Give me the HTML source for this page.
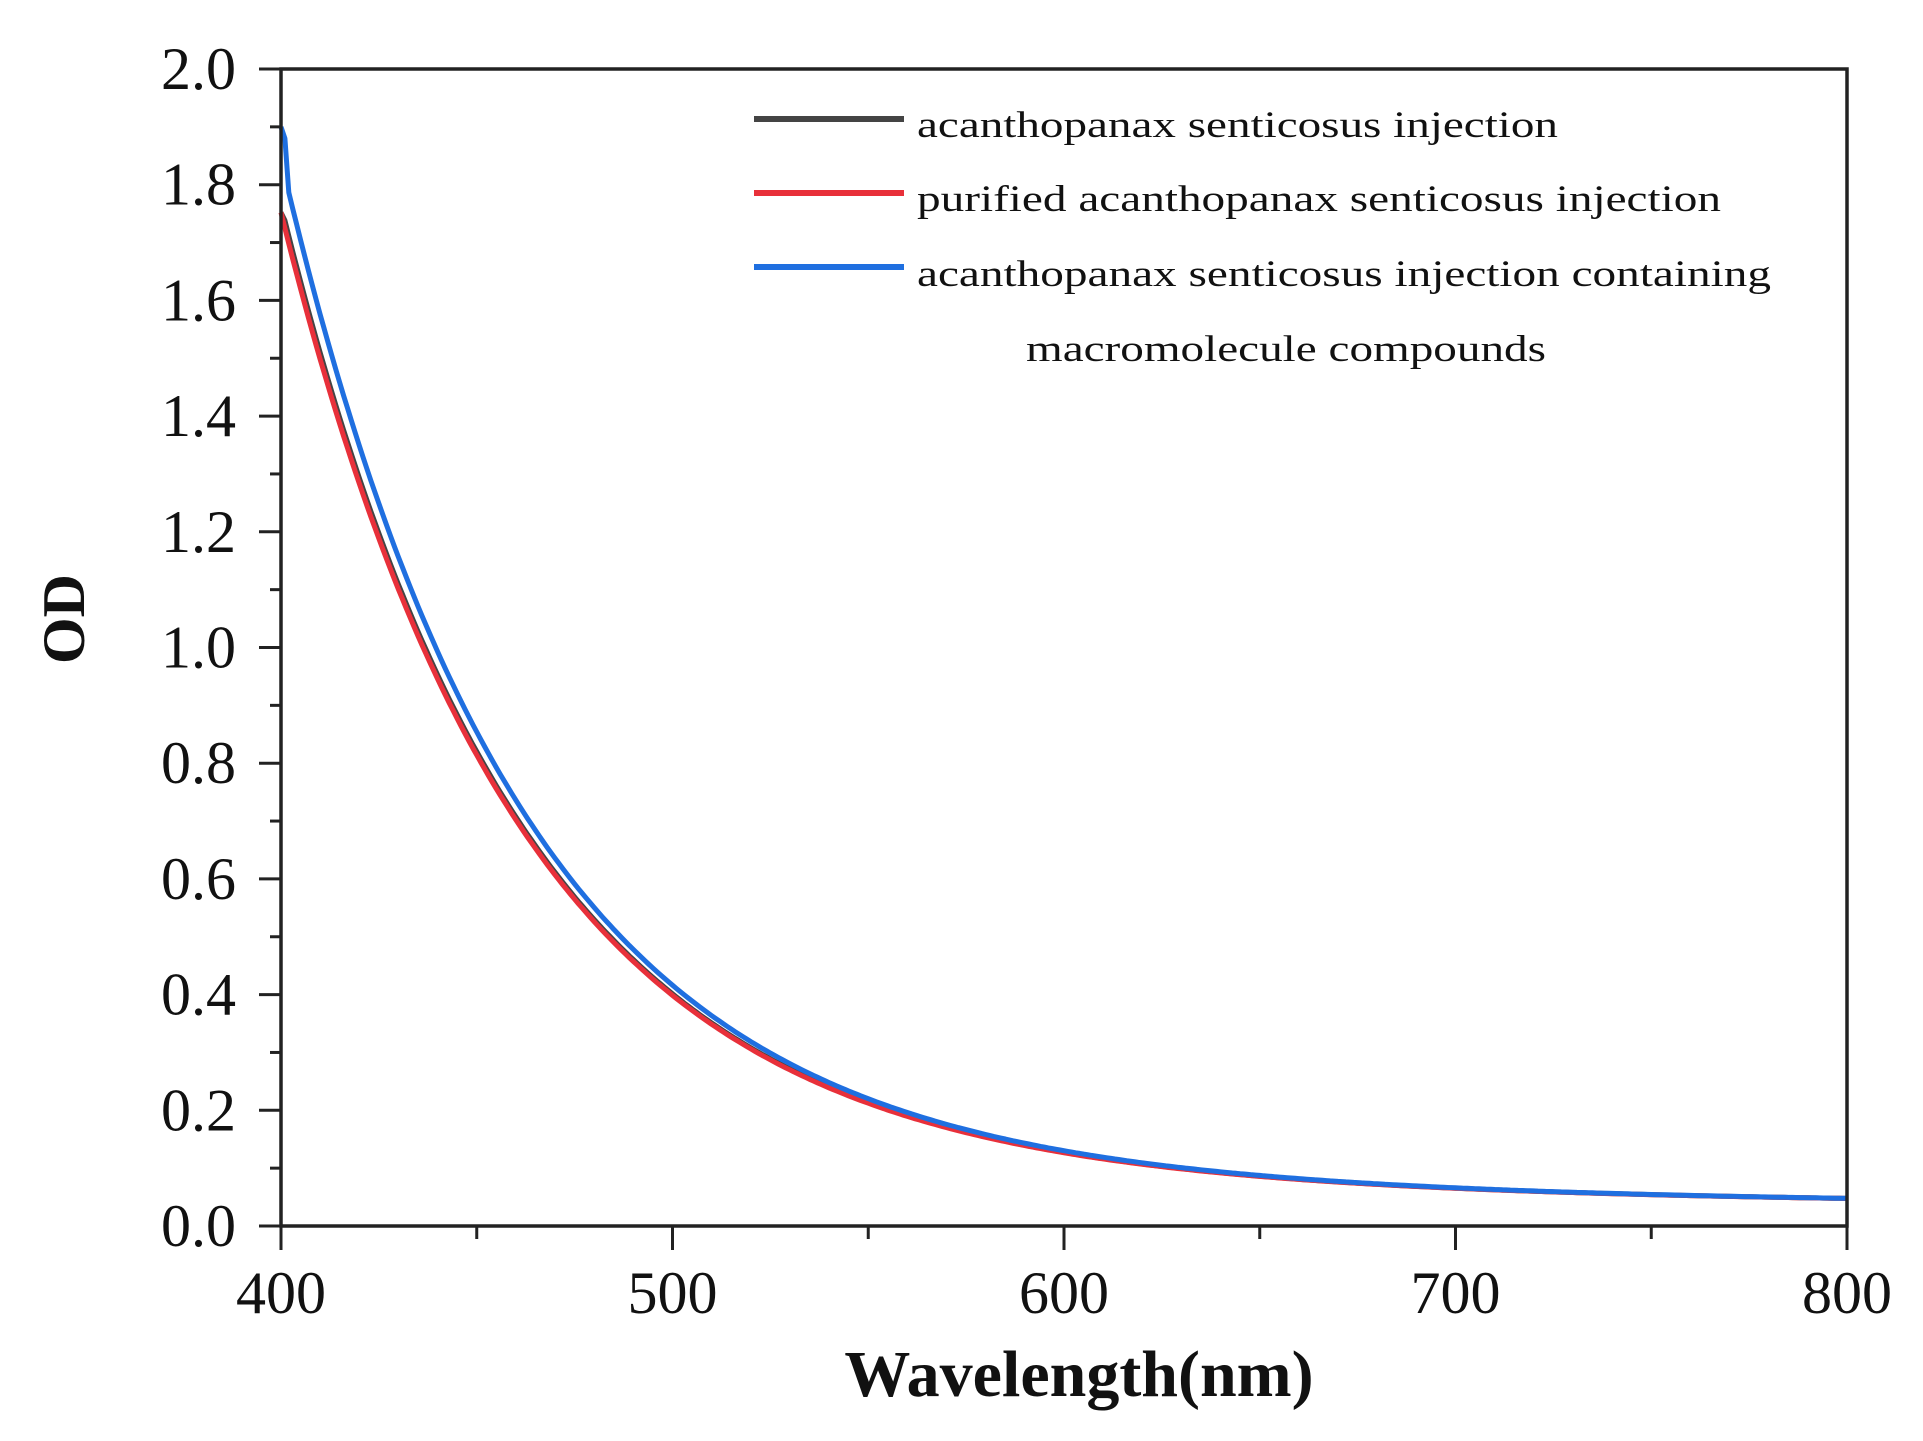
<!DOCTYPE html>
<html><head><meta charset="utf-8"><style>
html,body{margin:0;padding:0;background:#fff;}
svg{display:block;}
text{font-family:"Liberation Serif",serif;fill:#111;}
</style></head><body>
<svg id="s" width="1923" height="1441" viewBox="0 0 1923 1441" xmlns="http://www.w3.org/2000/svg">
<g id="curves" fill="none" stroke-width="5" stroke-linejoin="round"></g>
<rect x="281" y="69" width="1566" height="1157" fill="none" stroke="#222" stroke-width="3.5"/>
<g id="ticks" stroke="#222" stroke-width="3"></g>
<g font-size="60" text-anchor="end" id="ylab"></g>
<g font-size="60" text-anchor="middle">
<text x="281" y="1313">400</text><text x="672.5" y="1313">500</text><text x="1064" y="1313">600</text><text x="1455.5" y="1313">700</text><text x="1847" y="1313">800</text>
</g>
<text x="1079" y="1396" font-size="66" font-weight="bold" text-anchor="middle">Wavelength(nm)</text>
<text transform="translate(84,619) rotate(-90)" font-size="60" font-weight="bold" text-anchor="middle">OD</text>
<g stroke-width="6">
<line x1="754" y1="119" x2="904" y2="119" stroke="#444"/>
<line x1="754" y1="193" x2="904" y2="193" stroke="#e8303a"/>
<line x1="754" y1="267" x2="904" y2="267" stroke="#1f6fe0"/>
</g>
<g font-size="37">
<text x="917" y="137" textLength="641" lengthAdjust="spacingAndGlyphs">acanthopanax senticosus injection</text>
<text x="917" y="211" textLength="804" lengthAdjust="spacingAndGlyphs">purified acanthopanax senticosus injection</text>
<text x="917" y="286" textLength="854" lengthAdjust="spacingAndGlyphs">acanthopanax senticosus injection containing</text>
<text x="1026" y="361" textLength="520" lengthAdjust="spacingAndGlyphs">macromolecule compounds</text>
</g>
</svg>
<script>
var NS="http://www.w3.org/2000/svg";
function X(w){return 281+(w-400)*3.915;}
function Y(v){return 1226-v*578.5;}
function f(x,k,sh){var d=x-400-sh;if(d<0)d=0;return 0.032+k*1.62*Math.exp(-d/60)+0.1*Math.exp(-d/200);}
function path(k,sh,start){var p="";for(var w=400;w<=800;w+=1){var v=f(w,k,sh);if(start&&w<=401)v=start-(w-400)*0.02;p+=(p?"L":"M")+X(w).toFixed(1)+","+Y(v).toFixed(1);}return p;}
var g=document.getElementById("curves");
[["#444",1,0.5,0],["#e8303a",1,0,0],["#1f6fe0",1.03,1.5,1.9]].forEach(function(c){var e=document.createElementNS(NS,"path");e.setAttribute("d",path(c[1],c[2],c[3]));e.setAttribute("stroke",c[0]);g.appendChild(e);});
var t=document.getElementById("ticks"),yl=document.getElementById("ylab");
function ln(a,b,c,d){var e=document.createElementNS(NS,"line");e.setAttribute("x1",a);e.setAttribute("y1",b);e.setAttribute("x2",c);e.setAttribute("y2",d);t.appendChild(e);}
for(var i=0;i<=20;i++){var y=Y(i*0.1);if(i%2==0){ln(259,y,281,y);var tx=document.createElementNS(NS,"text");tx.setAttribute("x","236");tx.setAttribute("y",(y+20).toFixed(1));tx.textContent=(i/10).toFixed(1);yl.appendChild(tx);}else ln(270,y,281,y);}
for(var w=400;w<=800;w+=50){var x=X(w);if(w%100==0)ln(x,1226,x,1250);else ln(x,1226,x,1239);}
</script>
</body></html>
